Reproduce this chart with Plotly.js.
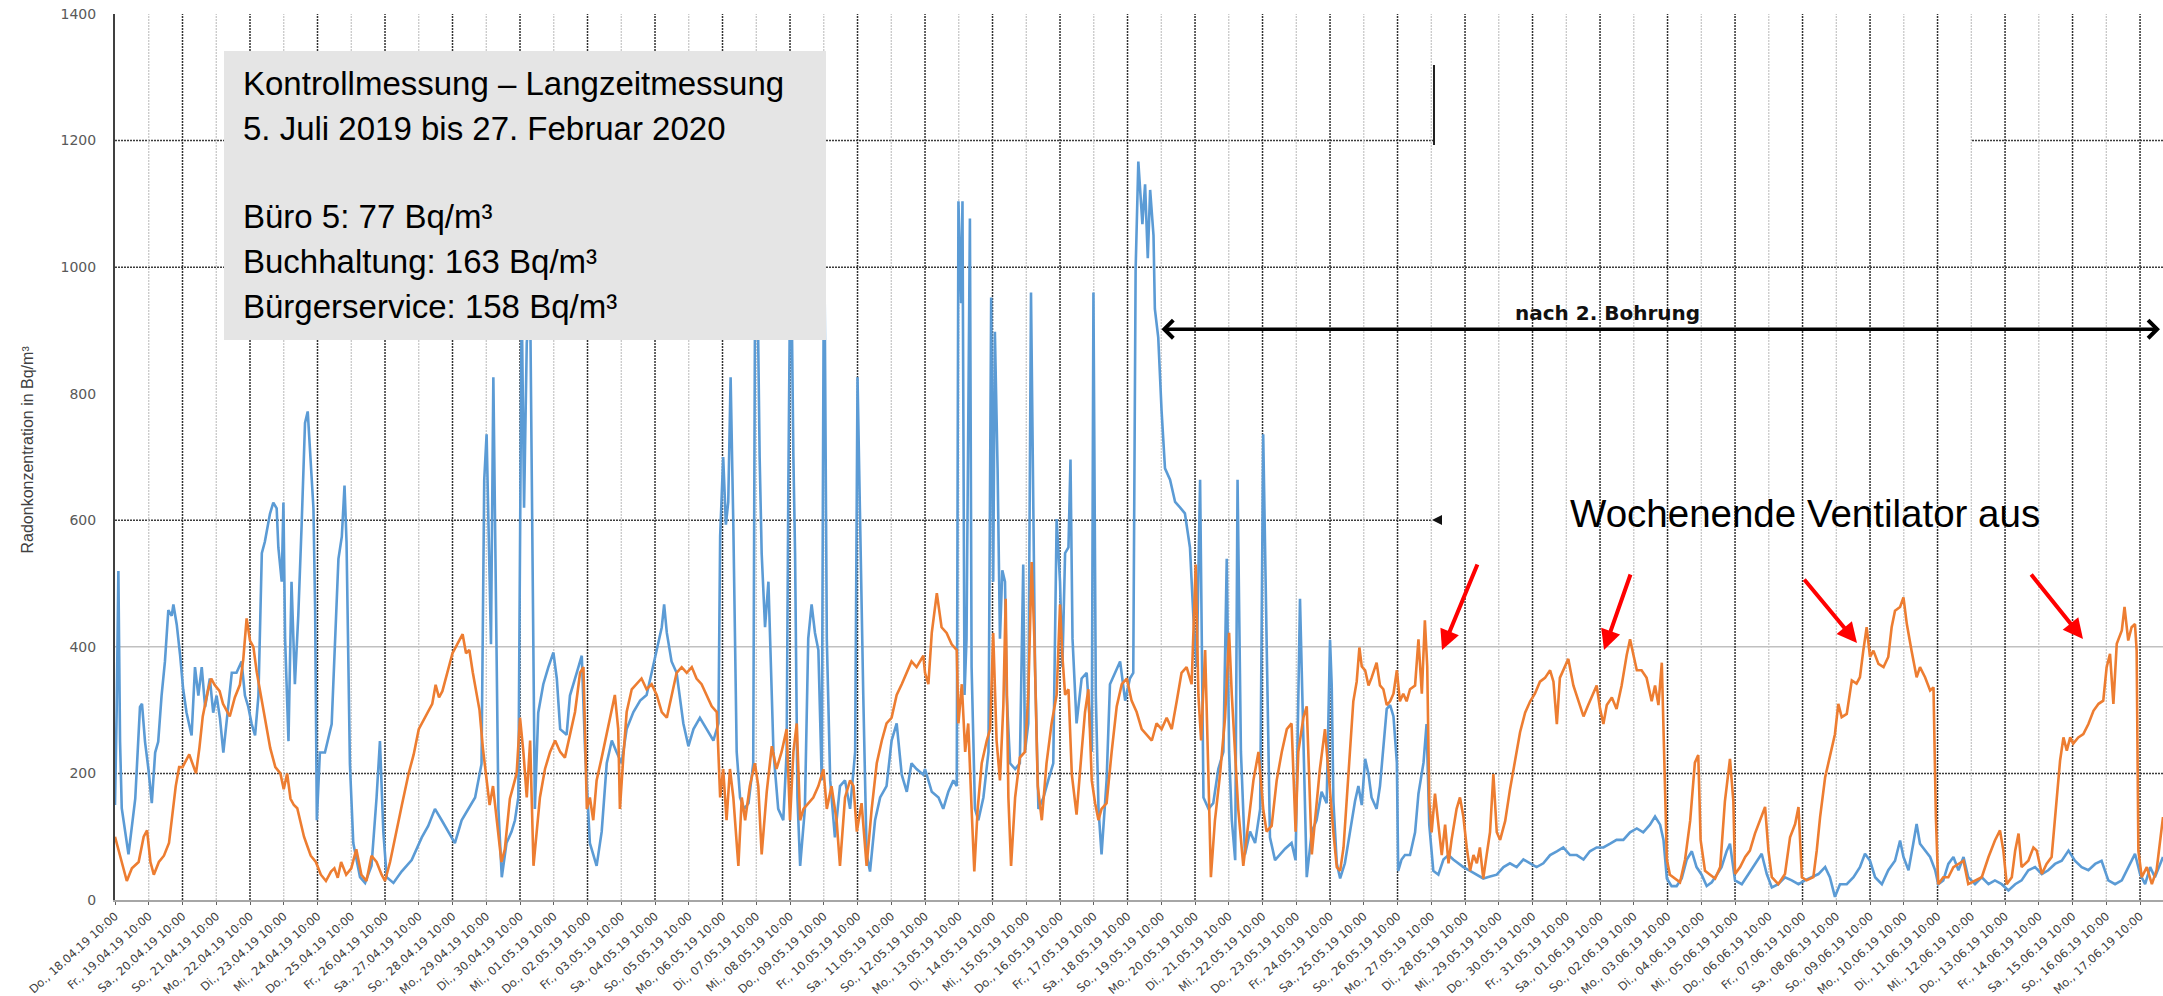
<!DOCTYPE html>
<html>
<head>
<meta charset="utf-8">
<script src="https://cdn.plot.ly/plotly-3.0.1.min.js"></script>
<style>html,body{margin:0;padding:0;background:#fff;}#chart{width:2163px;height:996px;}</style>
</head>
<body>
<div id="chart"></div>
<script>
// ---------- data ----------
const dayLabels = [
"Do., 18.04.19 10:00","Fr., 19.04.19 10:00","Sa., 20.04.19 10:00","So., 21.04.19 10:00","Mo., 22.04.19 10:00",
"Di., 23.04.19 10:00","Mi., 24.04.19 10:00","Do., 25.04.19 10:00","Fr., 26.04.19 10:00","Sa., 27.04.19 10:00",
"So., 28.04.19 10:00","Mo., 29.04.19 10:00","Di., 30.04.19 10:00","Mi., 01.05.19 10:00","Do., 02.05.19 10:00",
"Fr., 03.05.19 10:00","Sa., 04.05.19 10:00","So., 05.05.19 10:00","Mo., 06.05.19 10:00","Di., 07.05.19 10:00",
"Mi., 08.05.19 10:00","Do., 09.05.19 10:00","Fr., 10.05.19 10:00","Sa., 11.05.19 10:00","So., 12.05.19 10:00",
"Mo., 13.05.19 10:00","Di., 14.05.19 10:00","Mi., 15.05.19 10:00","Do., 16.05.19 10:00","Fr., 17.05.19 10:00",
"Sa., 18.05.19 10:00","So., 19.05.19 10:00","Mo., 20.05.19 10:00","Di., 21.05.19 10:00","Mi., 22.05.19 10:00",
"Do., 23.05.19 10:00","Fr., 24.05.19 10:00","Sa., 25.05.19 10:00","So., 26.05.19 10:00","Mo., 27.05.19 10:00",
"Di., 28.05.19 10:00","Mi., 29.05.19 10:00","Do., 30.05.19 10:00","Fr., 31.05.19 10:00","Sa., 01.06.19 10:00",
"So., 02.06.19 10:00","Mo., 03.06.19 10:00","Di., 04.06.19 10:00","Mi., 05.06.19 10:00","Do., 06.06.19 10:00",
"Fr., 07.06.19 10:00","Sa., 08.06.19 10:00","So., 09.06.19 10:00","Mo., 10.06.19 10:00","Di., 11.06.19 10:00",
"Mi., 12.06.19 10:00","Do., 13.06.19 10:00","Fr., 14.06.19 10:00","Sa., 15.06.19 10:00","So., 16.06.19 10:00",
"Mo., 17.06.19 10:00"];

const yTicks = [0, 200, 400, 600, 800, 1000, 1200, 1400];

// [days since Do., 18.04.19 10:00, Bq/m³]
const bluePts = [
[0.00,150],[0.05,300],[0.10,520],[0.15,250],[0.20,145],[0.40,72],[0.60,160],[0.74,305],[0.80,310],[0.89,250],
[0.99,207],[1.09,153],[1.19,233],[1.28,250],[1.38,323],[1.48,377],[1.58,458],[1.68,449],[1.73,467],[1.83,435],
[1.93,386],[2.02,333],[2.12,296],[2.27,260],[2.37,368],[2.47,323],[2.57,368],[2.67,305],[2.81,350],[2.91,296],
[3.01,323],[3.11,287],[3.21,233],[3.31,287],[3.46,359],[3.60,359],[3.75,377],[3.85,323],[3.95,305],[4.05,278],
[4.15,260],[4.25,323],[4.35,548],[4.44,566],[4.59,610],[4.69,628],[4.79,619],[4.84,557],[4.94,503],[4.99,628],
[5.04,413],[5.14,251],[5.23,503],[5.33,341],[5.43,449],[5.53,593],[5.63,754],[5.71,772],[5.78,700],[5.88,619],
[5.93,458],[5.98,126],[6.07,233],[6.22,233],[6.42,278],[6.52,413],[6.62,539],[6.72,574],[6.80,655],[6.86,566],
[6.96,215],[7.06,90],[7.26,36],[7.41,27],[7.60,54],[7.75,162],[7.85,251],[7.95,108],[8.05,36],[8.25,27],
[8.49,45],[8.79,63],[9.09,99],[9.28,117],[9.48,144],[9.68,126],[9.88,108],[10.07,90],[10.27,126],[10.47,144],
[10.67,162],[10.86,215],[10.94,664],[11.01,736],[11.08,574],[11.14,404],[11.21,826],[11.26,593],[11.31,413],[11.36,144],
[11.46,36],[11.60,90],[11.75,108],[11.85,126],[11.95,162],[12.05,950],[12.12,620],[12.20,880],[12.30,950],[12.37,600],
[12.40,368],[12.44,144],[12.54,296],[12.69,341],[12.84,368],[12.99,391],[13.09,350],[13.19,270],[13.38,261],[13.48,323],
[13.68,359],[13.83,386],[13.93,234],[14.07,90],[14.27,54],[14.42,108],[14.57,216],[14.72,252],[14.86,234],[15.01,216],
[15.16,270],[15.36,297],[15.56,315],[15.75,324],[15.90,359],[16.05,395],[16.20,431],[16.27,467],[16.35,422],[16.49,377],
[16.64,359],[16.84,279],[16.99,243],[17.14,270],[17.33,288],[17.53,270],[17.73,252],[17.88,279],[17.93,575],[18.02,700],
[18.10,593],[18.17,629],[18.24,826],[18.32,593],[18.42,234],[18.52,162],[18.64,144],[18.77,153],[18.91,216],[18.96,898],
[19.03,1000],[19.10,700],[19.16,548],[19.26,431],[19.36,503],[19.51,234],[19.65,144],[19.80,126],[19.90,234],[19.95,655],
[20.02,1080],[20.10,700],[20.15,548],[20.22,162],[20.30,54],[20.44,144],[20.54,413],[20.64,467],[20.74,422],[20.84,395],
[20.94,189],[21.01,1100],[21.09,413],[21.19,189],[21.33,99],[21.48,180],[21.63,189],[21.78,144],[21.93,234],[22.00,826],
[22.07,593],[22.17,324],[22.27,72],[22.37,45],[22.52,126],[22.67,162],[22.86,180],[23.01,252],[23.16,279],[23.31,198],
[23.46,171],[23.60,216],[23.75,207],[23.95,198],
[24.00,207],[24.20,171],[24.40,162],[24.54,144],[24.69,171],[24.84,189],[24.94,180],[24.99,1104],[25.07,943],[25.11,1104],
[25.17,324],[25.23,413],[25.33,1077],[25.38,368],[25.48,144],[25.58,126],[25.73,162],[25.88,234],[25.96,952],[26.02,503],
[26.07,898],[26.15,682],[26.22,413],[26.29,521],[26.37,503],[26.42,324],[26.52,216],[26.67,207],[26.81,216],[26.91,530],
[26.96,234],[27.06,279],[27.14,960],[27.21,593],[27.26,368],[27.36,144],[27.51,162],[27.65,189],[27.80,216],[27.90,602],
[28.00,503],[28.07,368],[28.15,548],[28.25,557],[28.31,696],[28.37,413],[28.49,279],[28.64,350],[28.79,359],[28.94,234],
[28.99,960],[29.06,324],[29.14,144],[29.23,72],[29.38,189],[29.48,341],[29.63,359],[29.78,377],[29.93,315],[30.07,350],
[30.17,359],[30.24,996],[30.32,1167],[30.44,1068],[30.52,1131],[30.60,1014],[30.67,1122],[30.77,1050],[30.81,934],[30.91,889],
[31.01,772],[31.11,682],[31.26,664],[31.41,629],[31.56,620],[31.70,611],[31.85,557],[31.95,449],[32.05,368],[32.15,664],
[32.25,162],[32.40,144],[32.54,153],[32.69,207],[32.84,234],[32.94,539],[33.01,234],[33.09,126],[33.19,63],[33.26,664],
[33.36,234],[33.48,72],[33.63,108],[33.78,90],[33.93,144],[34.02,736],[34.12,413],[34.22,99],[34.37,63],[34.52,72],
[34.67,81],[34.86,90],[34.98,63],[35.11,476],[35.21,234],[35.31,36],[35.46,108],[35.60,126],[35.75,171],[35.90,153],
[36.00,411],[36.05,339],[36.10,156],[36.20,58],[36.30,34],[36.44,58],[36.59,107],[36.74,156],[36.84,180],[36.94,150],
[37.04,223],[37.14,199],[37.23,162],[37.38,144],[37.48,180],[37.58,241],[37.68,302],[37.78,308],[37.88,290],[37.98,217],
[38.02,46],[38.12,64],[38.22,71],[38.37,71],[38.52,107],[38.62,168],[38.77,217],[38.86,278],[38.94,119],[39.06,46],
[39.21,40],[39.36,64],[39.51,71],[39.65,64],[39.80,58],[39.95,52],[40.15,46],[40.35,40],[40.54,34],[40.74,37],
[40.94,40],[41.14,52],[41.33,58],[41.53,52],[41.73,64],[41.93,58],[42.12,52],[42.32,58],[42.52,71],[42.72,77],
[42.91,83],[43.11,71],[43.31,71],[43.51,64],[43.70,77],[43.90,83],[44.10,83],[44.30,89],[44.49,95],[44.69,95],
[44.89,107],[45.09,113],[45.28,107],[45.48,119],[45.63,132],[45.78,119],[45.88,95],[45.98,34],[46.12,22],[46.27,22],
[46.42,34],[46.57,64],[46.72,77],[46.86,52],[47.01,40],[47.16,22],[47.31,28],[47.46,40],[47.60,52],[47.75,77],
[47.85,89],
[48.00,31],[48.20,25],[48.40,41],[48.59,57],[48.79,73],[48.94,41],[49.09,20],[49.28,25],[49.48,36],[49.68,31],
[49.88,25],[50.07,31],[50.27,36],[50.47,41],[50.67,52],[50.81,36],[50.96,5],[51.11,25],[51.31,25],[51.51,36],
[51.70,52],[51.85,73],[52.00,62],[52.15,36],[52.35,25],[52.54,47],[52.74,62],[52.89,94],[52.99,68],[53.14,47],
[53.28,89],[53.38,120],[53.48,89],[53.63,78],[53.78,68],[53.93,47],[54.02,25],[54.17,31],[54.32,57],[54.47,68],
[54.62,47],[54.77,68],[54.91,36],[55.11,25],[55.31,36],[55.51,25],[55.70,31],[55.90,25],[56.10,15],[56.30,25],
[56.49,31],[56.69,47],[56.89,52],[57.09,41],[57.28,47],[57.48,57],[57.68,62],[57.88,78],[58.07,62],[58.27,52],
[58.47,47],[58.67,57],[58.86,62],[59.06,31],[59.26,25],[59.46,31],[59.65,52],[59.85,73],[60.00,41],[60.15,25],
[60.30,52],[60.44,36],[60.68,68]];

const orangePts = [
[0.00,100],[0.10,80],[0.20,60],[0.35,30],[0.50,50],[0.70,60],[0.85,100],[0.95,110],[1.05,60],[1.15,40],
[1.30,60],[1.45,70],[1.60,90],[1.80,180],[1.90,210],[2.00,210],[2.20,230],[2.40,200],[2.50,240],[2.60,290],
[2.75,330],[2.85,350],[2.95,340],[3.10,330],[3.20,310],[3.30,300],[3.40,290],[3.55,320],[3.70,340],[3.80,380],
[3.90,445],[4.00,410],[4.10,400],[4.20,360],[4.30,330],[4.45,290],[4.60,240],[4.75,210],[4.90,200],[5.00,175],
[5.10,200],[5.20,160],[5.30,150],[5.40,145],[5.50,120],[5.60,100],[5.70,85],[5.80,70],[5.95,60],[6.10,40],
[6.25,30],[6.40,45],[6.50,50],[6.60,35],[6.70,60],[6.85,40],[7.00,50],[7.15,80],[7.30,40],[7.45,30],
[7.60,70],[7.75,60],[7.90,40],[8.00,30],[8.15,60],[8.30,100],[8.50,150],[8.70,200],[8.85,230],[9.00,270],
[9.20,290],[9.40,310],[9.50,340],[9.60,320],[9.70,330],[9.80,350],[9.90,370],[10.00,390],[10.15,405],[10.30,420],
[10.40,390],[10.50,395],[10.60,360],[10.70,330],[10.80,300],[10.90,240],[11.00,190],[11.10,150],[11.20,180],[11.35,110],
[11.45,60],[11.55,80],[11.70,160],[11.80,180],[11.90,200],
[12.00,288],[12.10,234],[12.20,162],[12.30,252],[12.40,54],[12.49,108],[12.59,162],[12.74,207],[12.89,234],[13.04,252],
[13.19,234],[13.33,225],[13.48,261],[13.63,297],[13.78,359],[13.88,368],[13.98,144],[14.07,162],[14.17,126],[14.27,189],
[14.42,225],[14.57,261],[14.72,297],[14.81,324],[14.91,270],[14.96,144],[15.06,225],[15.16,297],[15.31,333],[15.46,341],
[15.60,350],[15.75,333],[15.90,341],[16.05,324],[16.20,297],[16.35,288],[16.49,324],[16.64,359],[16.79,368],[16.94,359],
[17.09,368],[17.23,350],[17.38,341],[17.53,324],[17.68,306],[17.83,297],[17.93,162],[18.02,207],[18.12,126],[18.22,207],
[18.32,162],[18.47,54],[18.57,162],[18.67,126],[18.81,180],[18.96,216],[19.06,180],[19.16,72],[19.31,171],[19.46,243],
[19.60,207],[19.75,234],[19.90,270],[20.00,126],[20.10,234],[20.20,279],[20.30,126],[20.40,144],[20.54,153],[20.69,162],
[20.84,180],[20.99,207],[21.09,144],[21.23,180],[21.38,126],[21.48,54],[21.63,162],[21.78,189],[21.88,180],[21.98,108],
[22.12,153],[22.27,54],[22.42,144],[22.57,216],[22.72,252],[22.86,279],[23.01,288],[23.16,324],[23.31,341],[23.46,359],
[23.60,377],[23.75,368],[23.95,386],
[24.00,359],[24.10,341],[24.20,422],[24.35,485],[24.49,431],[24.64,422],[24.79,404],[24.94,395],[24.99,279],[25.09,341],
[25.19,234],[25.28,279],[25.38,144],[25.46,45],[25.56,144],[25.68,216],[25.83,252],[25.93,270],[26.02,422],[26.12,252],
[26.22,189],[26.32,306],[26.39,476],[26.47,162],[26.55,54],[26.67,162],[26.81,225],[26.96,234],[27.06,324],[27.16,534],
[27.24,413],[27.34,180],[27.46,126],[27.60,216],[27.75,279],[27.90,324],[28.00,467],[28.07,386],[28.15,324],[28.25,333],
[28.35,198],[28.49,135],[28.64,234],[28.74,297],[28.84,333],[28.94,189],[29.04,153],[29.14,126],[29.23,144],[29.38,153],
[29.53,234],[29.68,306],[29.83,341],[29.98,350],[30.12,315],[30.27,297],[30.42,270],[30.57,261],[30.72,252],[30.86,279],
[31.01,270],[31.16,288],[31.31,270],[31.46,315],[31.60,359],[31.75,368],[31.90,341],[32.02,530],[32.10,324],[32.18,252],
[32.30,395],[32.40,189],[32.47,36],[32.59,126],[32.74,198],[32.89,288],[33.01,422],[33.09,324],[33.19,234],[33.28,144],
[33.43,54],[33.58,126],[33.73,189],[33.88,234],[34.02,144],[34.12,108],[34.27,117],[34.42,189],[34.57,234],[34.72,270],
[34.86,279],[34.98,108],[35.06,234],[35.21,288],[35.31,306],[35.46,72],[35.56,126],[35.70,207],[35.85,270],
[36.00,168],[36.10,107],[36.20,52],[36.30,46],[36.40,83],[36.49,156],[36.59,247],[36.69,314],[36.79,345],[36.87,399],
[36.94,369],[37.04,363],[37.14,339],[37.23,351],[37.38,375],[37.48,339],[37.58,333],[37.68,308],[37.78,314],[37.88,326],
[37.98,363],[38.07,314],[38.17,326],[38.27,314],[38.37,333],[38.52,339],[38.62,412],[38.72,326],[38.81,442],[38.88,369],
[38.94,156],[39.01,107],[39.11,168],[39.21,119],[39.31,71],[39.41,119],[39.51,58],[39.60,95],[39.75,144],[39.85,162],
[39.95,132],[40.05,83],[40.15,46],[40.25,71],[40.35,58],[40.44,83],[40.54,34],[40.64,71],[40.74,107],[40.84,199],
[40.94,107],[41.04,95],[41.19,125],[41.33,174],[41.48,217],[41.63,265],[41.78,296],[41.93,314],[42.07,326],[42.22,345],
[42.37,351],[42.52,363],[42.62,345],[42.72,278],[42.81,351],[42.91,363],[43.06,381],[43.21,339],[43.36,314],[43.51,290],
[43.65,308],[43.80,326],[43.90,339],[44.00,302],[44.10,278],[44.20,308],[44.35,320],[44.49,302],[44.64,339],[44.79,387],
[44.89,412],[44.99,387],[45.09,363],[45.23,363],[45.38,351],[45.53,314],[45.63,339],[45.73,308],[45.83,375],[45.90,229],
[45.98,64],[46.07,40],[46.22,34],[46.37,28],[46.52,64],[46.67,125],[46.81,217],[46.91,229],[46.98,95],[47.11,46],
[47.26,40],[47.41,34],[47.56,52],[47.70,156],[47.85,223],[47.95,156],
[48.00,41],[48.15,52],[48.30,68],[48.44,78],[48.59,105],[48.74,126],[48.89,147],[48.99,78],[49.09,36],[49.28,25],
[49.48,41],[49.63,99],[49.78,120],[49.88,147],[49.98,36],[50.12,31],[50.32,36],[50.42,78],[50.52,131],[50.67,194],
[50.81,226],[50.96,262],[51.06,310],[51.16,289],[51.31,294],[51.46,347],[51.60,342],[51.70,352],[51.80,394],[51.90,431],
[52.00,384],[52.10,394],[52.25,373],[52.40,368],[52.54,384],[52.64,431],[52.74,457],[52.89,463],[52.99,478],[53.09,436],
[53.23,394],[53.38,352],[53.48,368],[53.63,352],[53.78,331],[53.88,336],[53.95,131],[54.02,25],[54.17,36],[54.32,36],
[54.47,52],[54.62,57],[54.77,62],[54.91,25],[55.11,31],[55.31,36],[55.51,68],[55.70,94],[55.85,110],[55.95,78],
[56.05,25],[56.20,36],[56.30,78],[56.40,105],[56.49,52],[56.69,62],[56.84,83],[56.94,78],[57.09,41],[57.23,57],
[57.38,68],[57.53,162],[57.63,220],[57.73,257],[57.83,236],[57.93,257],[58.02,247],[58.17,257],[58.32,262],[58.47,278],
[58.62,299],[58.77,310],[58.91,315],[59.01,368],[59.11,389],[59.21,310],[59.31,405],[59.46,426],[59.54,463],[59.65,410],
[59.75,431],[59.85,436],[59.90,394],[59.95,78],[60.05,36],[60.20,52],[60.35,25],[60.49,47],[60.68,131]];

const roomNames = ["Büro 5", "Buchhaltung", "Bürgerservice"];
const roomMeans = [77, 163, 158];

// ---------- layout helpers (pixel -> paper) ----------
const W = 2163, H = 996, ML = 115, MR = 0, MT = 14, MB = 96;
const PW = W - ML - MR, PH = H - MT - MB;
const px = v => (v - ML) / PW;
const py = v => (H - MB - v) / PH;

const traces = [
  {x: bluePts.map(p => p[0]), y: bluePts.map(p => p[1]), type: 'scatter', mode: 'lines',
   line: {color: '#5b9bd5', width: 2.6}, hoverinfo: 'skip', name: 'blau'},
  {x: orangePts.map(p => p[0]), y: orangePts.map(p => p[1]), type: 'scatter', mode: 'lines',
   line: {color: '#ed7d31', width: 2.6}, hoverinfo: 'skip', name: 'orange'}
];

const shapes = [];
dayLabels.forEach((_, i) => {
  if (i === 0) return;
  const dark = i % 2 === 0;
  shapes.push({type: 'line', xref: 'x', yref: 'y', x0: i, x1: i, y0: 0, y1: 1400, layer: 'below',
    line: {color: dark ? '#333333' : '#c4c4c4', width: dark ? 1.5 : 1.2, dash: '2px,1px'}});
});
[200, 600, 1000, 1200].forEach(v => shapes.push({type: 'line', xref: 'paper', yref: 'y', x0: 0, x1: 1, y0: v, y1: v,
  layer: 'below', line: {color: '#3c3c3c', width: 1.5, dash: '2px,1px'}}));
shapes.push({type: 'line', xref: 'paper', yref: 'y', x0: 0, x1: 1, y0: 400, y1: 400, layer: 'below',
  line: {color: '#c0c0c0', width: 1.5}});
// white cover boxes
shapes.push({type: 'rect', xref: 'paper', yref: 'paper', x0: px(1434), x1: px(1972), y0: py(162), y1: py(53),
  layer: 'below', fillcolor: '#ffffff', line: {width: 0}});
shapes.push({type: 'rect', xref: 'paper', yref: 'paper', x0: px(1432), x1: px(2170), y0: py(580), y1: py(443),
  layer: 'below', fillcolor: '#ffffff', line: {width: 0}});
shapes.push({type: 'line', xref: 'paper', yref: 'paper', x0: px(1434), x1: px(1434), y0: py(145), y1: py(65),
  layer: 'below', line: {color: '#222222', width: 2}});
shapes.push({type: 'path', xref: 'paper', yref: 'paper', layer: 'below', fillcolor: '#111111', line: {width: 0},
  path: `M ${px(1432)} ${py(520)} L ${px(1442)} ${py(515)} L ${px(1442)} ${py(525)} Z`});
// grey info box (on top of the lines)
shapes.push({type: 'rect', xref: 'paper', yref: 'paper', x0: px(224), x1: px(826), y0: py(340), y1: py(51),
  layer: 'above', fillcolor: '#e5e5e5', line: {width: 0}});

const boxFont = {family: 'Liberation Sans, Arial, sans-serif', size: 33, color: '#000000'};
const boxLines = [
  ["Kontrollmessung – Langzeitmessung", 95],
  ["5. Juli 2019 bis 27. Februar 2020", 140],
  [roomNames[0] + ": " + roomMeans[0] + " Bq/m³", 228],
  [roomNames[1] + ": " + roomMeans[1] + " Bq/m³", 273],
  [roomNames[2] + ": " + roomMeans[2] + " Bq/m³", 318]
];
const annotations = boxLines.map(([t, base]) => ({
  text: t, xref: 'paper', yref: 'paper', x: px(241), y: py(base - 11.4), xanchor: 'left', yanchor: 'middle',
  showarrow: false, font: boxFont, align: 'left'
}));

annotations.push({text: 'Wochenende Ventilator aus', xref: 'paper', yref: 'paper', x: px(1805), y: py(513.7),
  xanchor: 'center', yanchor: 'middle', showarrow: false,
  font: {family: 'Liberation Sans, Arial, sans-serif', size: 38.5, color: '#000000'}});
annotations.push({text: '<b>nach 2. Bohrung</b>', xref: 'paper', yref: 'paper', x: px(1607), y: py(313),
  xanchor: 'center', yanchor: 'middle', showarrow: false,
  font: {family: 'DejaVu Sans, sans-serif', size: 20, color: '#111111'}});
// double arrow "nach 2. Bohrung"
annotations.push({text: '', xref: 'x', yref: 'y', x: 60.59, y: 902, axref: 'x', ayref: 'y', ax: 30.96, ay: 902,
  showarrow: true, arrowside: 'end+start', arrowhead: 4, startarrowhead: 4, arrowsize: 1, startarrowsize: 1,
  arrowwidth: 3.5, arrowcolor: '#000000', standoff: 0, startstandoff: 0});
// red arrows
[[1442, 650, 1478, 563], [1604, 650, 1631, 573], [1857, 643, 1803, 578], [2083, 639, 2030, 573]].forEach(a => {
  annotations.push({text: '', xref: 'paper', yref: 'paper', x: px(a[0]), y: py(a[1]), ax: a[2] - a[0], ay: a[3] - a[1],
    showarrow: true, arrowhead: 2, arrowsize: 1, arrowwidth: 4, arrowcolor: '#ff0000', standoff: 0});
});
// y axis title
annotations.push({text: 'Radonkonzentration in Bq/m³', xref: 'paper', yref: 'paper', x: px(27), y: py(449.5),
  xanchor: 'center', yanchor: 'middle', textangle: -90, showarrow: false,
  font: {family: 'Liberation Sans, Arial, sans-serif', size: 16, color: '#404040'}});

const layout = {
  width: W, height: H,
  margin: {l: ML, r: MR, t: MT, b: MB, pad: 0},
  paper_bgcolor: '#ffffff', plot_bgcolor: '#ffffff',
  showlegend: false,
  xaxis: {range: [0, 60.68], tickmode: 'array', tickvals: dayLabels.map((_, i) => i), ticktext: dayLabels,
    tickangle: -42, tickfont: {family: 'DejaVu Sans, sans-serif', size: 11.5, color: '#404040'},
    showgrid: false, zeroline: false, showline: true, linecolor: '#a6a6a6', linewidth: 2,
    ticks: 'outside', ticklen: 3, tickcolor: '#606060', tickwidth: 1, automargin: false, fixedrange: true},
  yaxis: {range: [0, 1400], tickmode: 'array', tickvals: yTicks, ticktext: yTicks.map(String),
    tickfont: {family: 'DejaVu Sans, sans-serif', size: 14, color: '#595959'},
    showgrid: false, zeroline: false, showline: true, linecolor: '#404040', linewidth: 2,
    ticks: '', ticklabelstandoff: 14, automargin: false, fixedrange: true},
  shapes: shapes,
  annotations: annotations
};

Plotly.newPlot('chart', traces, layout, {staticPlot: true, displayModeBar: false});
</script>
</body>
</html>
